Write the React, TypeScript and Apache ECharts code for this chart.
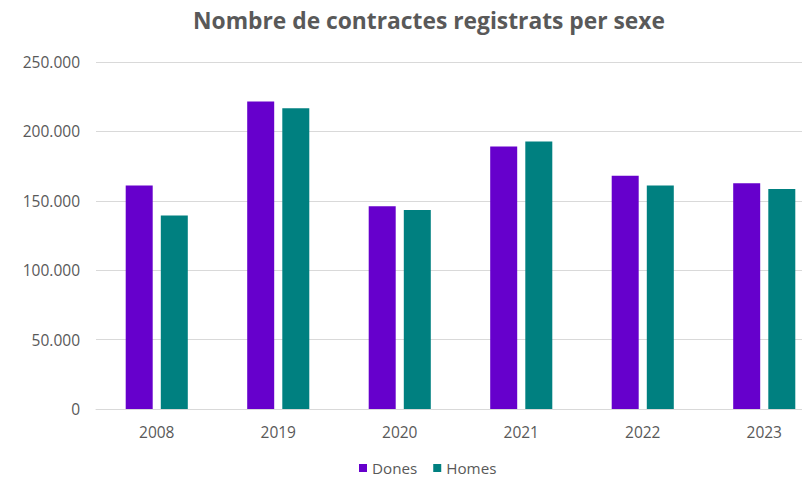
import React, { useEffect, useRef } from "react";
import * as echarts from "echarts";

const categories = ["2008", "2019", "2020", "2021", "2022", "2023"];
const dones = [161100, 221500, 146100, 189200, 168100, 162600];
const homes = [139400, 216700, 143400, 192800, 161100, 158500];
const seriesNames = ["Dones", "Homes"];
const titleText = "Nombre de contractes registrats per sexe";

const fmt = (v: number) =>
  v === 0 ? "0" : String(Math.round(v)).replace(/\B(?=(\d{3})+(?!\d))/g, ".");

export default function App() {
  const ref = useRef<HTMLDivElement>(null);
  useEffect(() => {
    if (!ref.current) return;
    const chart = echarts.init(ref.current, undefined, { renderer: "svg" });
    chart.setOption({
      animation: false,
      backgroundColor: "#ffffff",
      textStyle: { fontFamily: "Open Sans" },
      title: {
        text: titleText,
        left: 424,
        top: 4,
        textAlign: "center",
        textStyle: {
          fontFamily: "Open Sans",
          fontWeight: "bold",
          fontSize: 22.8,
          color: "#595959",
        },
      },
      legend: {
        data: seriesNames,
        left: 359,
        top: 459,
        padding: 0,
        itemWidth: 8,
        itemHeight: 8,
        itemGap: 16,
        icon: "rect",
        textStyle: {
          fontFamily: "Open Sans",
          fontSize: 15.2,
          lineHeight: 18,
          color: "#595959",
        },
      },
      grid: {
        left: 96,
        width: 729,
        top: 62,
        bottom: 70,
        outerBoundsMode: "none",
        containLabel: false,
      },
      xAxis: {
        type: "category",
        data: categories,
        axisLine: { lineStyle: { color: "#d9d9d9", width: 1 } },
        axisTick: { show: false },
        axisLabel: {
          color: "#595959",
          fontSize: 15.5,
          margin: 15,
          fontFamily: "Open Sans",
        },
      },
      yAxis: {
        type: "value",
        min: 0,
        max: 250000,
        interval: 50000,
        axisLine: { show: false },
        axisTick: { show: false },
        splitLine: { lineStyle: { color: "#d9d9d9", width: 1 } },
        axisLabel: {
          color: "#595959",
          fontSize: 15.5,
          margin: 16,
          fontFamily: "Open Sans",
          formatter: (v: number) => fmt(v),
        },
      },
      series: [
        {
          name: seriesNames[0],
          type: "bar",
          data: dones,
          barWidth: 27,
          barGap: "30%",
          itemStyle: { color: "#6600cc" },
        },
        {
          name: seriesNames[1],
          type: "bar",
          data: homes,
          barWidth: 27,
          itemStyle: { color: "#008080" },
        },
      ],
    });
    return () => chart.dispose();
  }, []);
  return (
    <div
      ref={ref}
      style={{ position: "absolute", left: 0, top: 0, width: 802, height: 479 }}
    />
  );
}
